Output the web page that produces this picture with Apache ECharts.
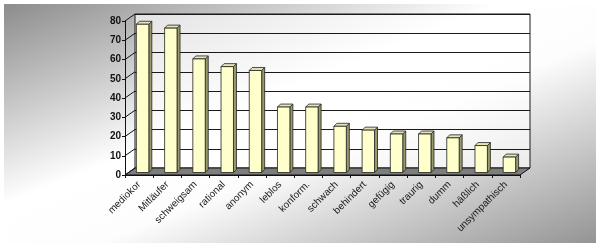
<!DOCTYPE html>
<html>
<head>
<meta charset="utf-8">
<script src="https://cdn.jsdelivr.net/npm/echarts@6/dist/echarts.min.js"></script>
<style>
html,body{margin:0;padding:0;background:#fff;}
#c{width:600px;height:248px;}
</style>
</head>
<body>
<div id="c"></div>
<script>
const categories = ['mediokor','Mitläufer','schweigsam','rational','anonym','leblos','konform.','schwach','behindert','gefügig','traurig','dumm','häßlich','unsympathisch'];
const values = [77,75,59,55,53,34,34,24,22,20,20,18,14,8];
const yTicks = [0,10,20,30,40,50,60,70,80];

const DX = 10, DY = -7;
const chart = echarts.init(document.getElementById('c'), null, {renderer:'canvas'});

function renderFloor(params, api){
  const band = api.size([1,0])[0];
  const p0 = api.coord([0,0]);
  const pN = api.coord([categories.length-1,0]);
  const L = p0[0]-band/2, R = pN[0]+band/2, y0 = p0[1];
  const children = [{
    type:'polygon',
    shape:{points:[[L,y0],[R,y0],[R+DX,y0+DY],[L+DX,y0+DY]]},
    style:{fill:'#7d7d7d', stroke:'#111', lineWidth:1}
  }];
  yTicks.forEach(v=>{
    const p = api.coord([0,v]);
    children.push({type:'line', shape:{x1:L,y1:p[1],x2:L+DX,y2:p[1]+DY}, style:{stroke:'#111', lineWidth:1}});
  });
  return {type:'group', children};
}

function renderBar(params, api){
  const i = api.value(0), v = api.value(1);
  const top = api.coord([i,v]);
  const base = api.coord([i,0]);
  const band = api.size([1,0])[0];
  const w = band*0.44, ox = 3.5, oy = -2.5, d = 3;
  const x0 = top[0]-w/2+ox, x1 = x0+w, yT = top[1]+oy, yB = base[1]+oy;
  const s = {stroke:'#222', lineWidth:0.8};
  return {type:'group', children:[
    {type:'polygon', shape:{points:[[x1,yT],[x1+d,yT-d],[x1+d,yB-d],[x1,yB]]}, style:Object.assign({fill:'#99996a'},s)},
    {type:'polygon', shape:{points:[[x0,yT],[x0+d,yT-d],[x1+d,yT-d],[x1,yT]]}, style:Object.assign({fill:'#e4e4b6'},s)},
    {type:'rect', shape:{x:x0,y:yT,width:w,height:yB-yT}, style:Object.assign({fill:'#ffffcc'},s)}
  ]};
}

const option = {
  backgroundColor:'#ffffff',
  animation:false,
  graphic:[{
    type:'rect', z:-100, silent:true,
    shape:{x:4,y:4,width:592,height:239},
    style:{fill:{type:'linear', global:true, x:217, y:-82, x2:383, y2:329,
      colorStops:[{offset:0,color:'#8c8c8c'},{offset:0.42,color:'#ffffff'},{offset:0.58,color:'#fdfdfd'},{offset:1,color:'#949494'}]}}
  }],
  grid:[
    {left:125, right:80, top:21, bottom:73},
    {left:135, right:70, top:14, bottom:80, show:true, backgroundColor:'rgba(255,255,255,0.65)', borderColor:'#1a1a1a', borderWidth:1}
  ],
  xAxis:[
    {type:'category', gridIndex:0, data:categories,
     axisLine:{show:true, lineStyle:{color:'#111'}},
     axisTick:{show:true, length:3, lineStyle:{color:'#111'}},
     axisLabel:{rotate:45, margin:8, fontSize:10, fontFamily:'Liberation Sans, Arial, sans-serif', color:'#1a1a1a', interval:0}},
    {type:'category', gridIndex:1, data:categories, show:false}
  ],
  yAxis:[
    {type:'value', gridIndex:0, min:0, max:80, interval:10,
     axisLine:{show:true, lineStyle:{color:'#111'}},
     axisTick:{show:true, length:3, lineStyle:{color:'#111'}},
     axisLabel:{fontSize:10, fontWeight:'bold', fontFamily:'Liberation Sans, Arial, sans-serif', color:'#111', margin:4},
     splitLine:{show:false}},
    {type:'value', gridIndex:1, min:0, max:80, interval:10,
     axisLine:{show:false}, axisTick:{show:false}, axisLabel:{show:false},
     splitLine:{show:true, lineStyle:{color:'#1a1a1a', width:1}}}
  ],
  series:[
    {type:'custom', xAxisIndex:0, yAxisIndex:0, z:1, data:[[0,0]], renderItem:renderFloor, silent:true},
    {type:'custom', xAxisIndex:0, yAxisIndex:0, z:3, data:values.map((v,i)=>[i,v]), renderItem:renderBar, silent:true}
  ]
};
chart.setOption(option);
</script>
</body>
</html>
